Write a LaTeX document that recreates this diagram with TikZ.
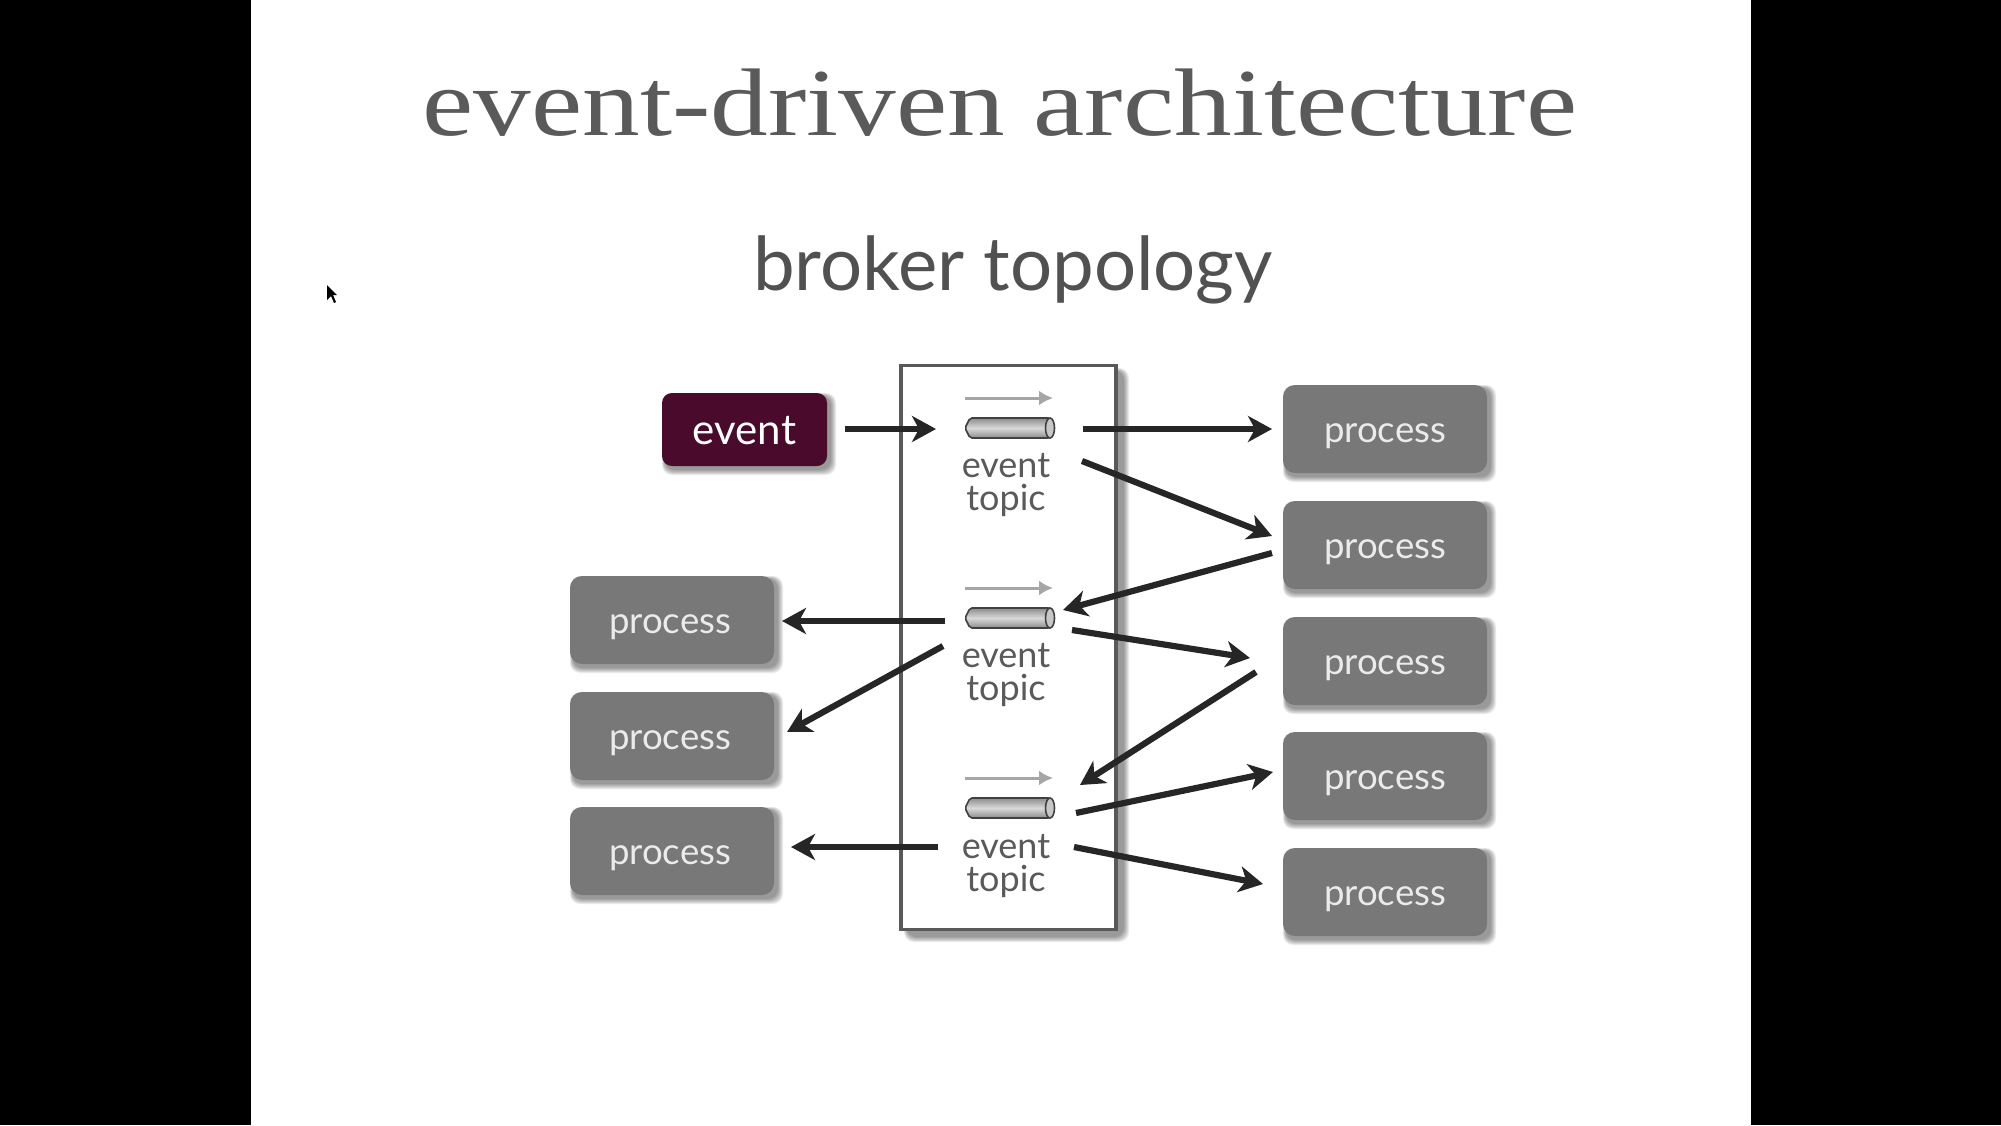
\documentclass[tikz,border=0pt]{standalone}
\usepackage{fontspec}
\setmainfont{Liberation Serif}
\newfontfamily\avfont{Lato}
\usetikzlibrary{arrows.meta,calc}
\definecolor{procgray}{HTML}{787878}
\definecolor{eventred}{HTML}{4A0A2C}
\definecolor{inktext}{HTML}{5A5A5A}
\definecolor{arrowink}{HTML}{262626}
\definecolor{thinarrow}{HTML}{A6A6A6}
\newcommand{\softshadow}[5][3]{%
  \foreach \g in {6,5,4,3,2,1}{%
    \fill[black,fill opacity=0.08,rounded corners=5pt]
      ($(#2,#3)+(#1-\g/2,#1-\g/2)$) rectangle ($(#4,#5)+(#1+\g,#1+\g)$);
  }%
}
\newcommand{\topictube}[3]{%
  \draw[line width=0.8pt,draw=black!75,top color=black!45,bottom color=black!45,middle color=black!15,rounded corners=1pt]
    (#1-40,#2-10) -- (#1+40,#2-10) -- (#1+40,#2+10) -- (#1-40,#2+10) -- (#1-45,#2) -- cycle;
  \draw[line width=0.8pt,draw=black!75,fill=black!22] (#1+40,#2) ellipse [x radius=4.5,y radius=10];
  \coordinate (#3a) at (#1-45,#2-30);
  \coordinate (#3b) at (#1+43,#2-30);
  \draw[thinline] (#3a) -- (#3b);
}
\newcommand{\proclabel}{\raisebox{-6.5pt}[0pt][0pt]{process}}
\tikzset{
  x=0.5pt,y=-0.5pt,
  thinline/.style={draw=thinarrow,line width=1.5pt,-{Latex[length=7pt,width=7.5pt]}},
  flow/.style={draw=arrowink,line width=3.1pt,-{Stealth[length=12pt,width=13pt,inset=3.5pt]}},
  procbox/.style={fill=procgray,text=white!92!black,rounded corners=6pt,minimum width=102pt,minimum height=44pt,
    font=\avfont\fontsize{18.3}{20}\selectfont,inner sep=0pt},
  eventbox/.style={fill=eventred,text=white,rounded corners=5pt,minimum width=82.5pt,minimum height=36.5pt,
    font=\avfont\fontsize{21}{22}\selectfont,inner sep=0pt},
  topiclabel/.style={align=center,text=inktext,font=\avfont\fontsize{18}{16.8}\selectfont,inner sep=0pt},
}
\begin{document}
\begin{tikzpicture}
\useasboundingbox (0,0) rectangle (2001,1125);
\fill[black] (0,0) rectangle (2001,1125);
\fill[white] (251,0) rectangle (1751,1125);
% cursor
\fill[black] (327,285) -- (327,300) -- (331,296) -- (334,303) -- (336,302) -- (333,295) -- (337,295) -- cycle;
% titles
\node[text=inktext,inner sep=0pt,xscale=1.2] (title) at (1000,103) {\fontsize{48}{50}\selectfont event-driven architecture};
\node[text=inktext!90!black,inner sep=0pt] (subtitle) at (1013,270) {\avfont\fontsize{37.2}{40}\selectfont broker topology};
% broker box
\softshadow[6]{901}{365}{1117}{930}
\node[draw=black!65,line width=1.7pt,fill=white,minimum width=107.5pt,minimum height=282pt,inner sep=0pt] (broker) at (1008.5,647.5) {};
% event
\softshadow{662}{393}{827}{466}
\node[eventbox] (event) at (744.5,429.5) {\raisebox{-7.7pt}[0pt][0pt]{event}};
% process boxes
\softshadow{1283}{385}{1487}{473}
\node[procbox] (r1) at (1385,429) {\proclabel};
\softshadow{1283}{501}{1487}{589}
\node[procbox] (r2) at (1385,545) {\proclabel};
\softshadow{1283}{617}{1487}{705}
\node[procbox] (r3) at (1385,661) {\proclabel};
\softshadow{1283}{732}{1487}{820}
\node[procbox] (r4) at (1385,776) {\proclabel};
\softshadow{1283}{848}{1487}{936}
\node[procbox] (r5) at (1385,892) {\proclabel};
\softshadow{570}{576}{774}{664}
\node[procbox] (l1) at (672,620) {\hspace*{-2pt}\proclabel};
\softshadow{570}{692}{774}{780}
\node[procbox] (l2) at (672,736) {\hspace*{-2pt}\proclabel};
\softshadow{570}{807}{774}{895}
\node[procbox] (l3) at (672,851) {\hspace*{-2pt}\proclabel};
% topics
\topictube{1010}{428}{ta}
\topictube{1010}{618}{tb}
\topictube{1010}{808}{tc}
\node[topiclabel] (t1) at (1006,485) {event\\topic};
\node[topiclabel] (t2) at (1006,675) {event\\topic};
\node[topiclabel] (t3) at (1006,866) {event\\topic};
% free connector ends
\coordinate (e1) at (845,429);   \coordinate (e2) at (936,429);
\coordinate (a1) at (1083,429);  \coordinate (a2) at (1272,429);
\coordinate (b1) at (1082,461);  \coordinate (b2) at (1272,536);
\coordinate (c1) at (1272,553);  \coordinate (c2) at (1063,610);
\coordinate (d1) at (945,621);   \coordinate (d2) at (782,621);
\coordinate (f1) at (943,646);   \coordinate (f2) at (787,732);
\coordinate (g1) at (1072,630);  \coordinate (g2) at (1250,658);
\coordinate (h1) at (1256,672);  \coordinate (h2) at (1080,785);
\coordinate (i1) at (1076,813);  \coordinate (i2) at (1273,772);
\coordinate (j1) at (1074,847);  \coordinate (j2) at (1263,884);
\coordinate (k1) at (938,847);   \coordinate (k2) at (791,847);
\foreach \p/\q in {e1/e2,a1/a2,b1/b2,c1/c2,d1/d2,f1/f2,g1/g2,h1/h2,i1/i2,j1/j2,k1/k2}
  \draw[flow] (\p) -- (\q);
\end{tikzpicture}
\end{document}
